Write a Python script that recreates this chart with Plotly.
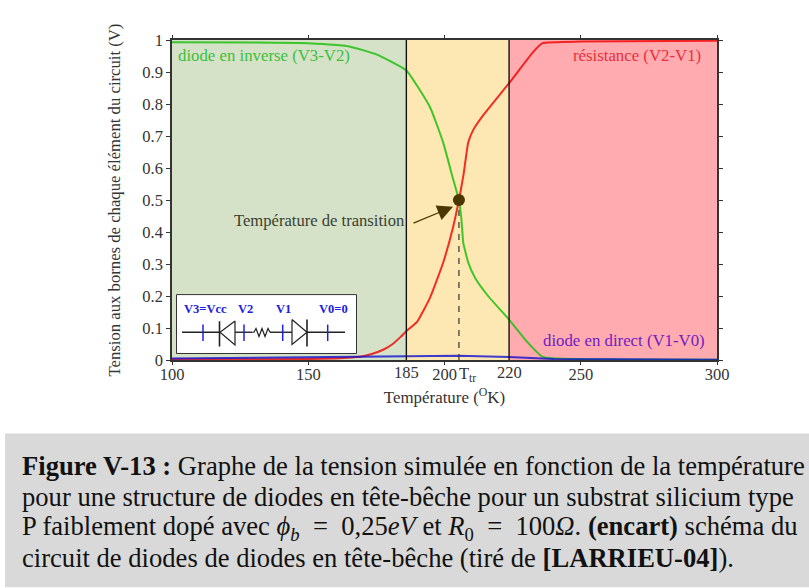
import plotly.graph_objects as go

# ---- data ----
t_inverse = [100, 130, 150, 165, 175, 186, 194.7, 199.5, 203, 205.3, 206.2, 206.9, 208.7, 211.2, 216, 223.7, 230, 236, 250, 300]
v_inverse = [0.993, 0.992, 0.99, 0.98, 0.955, 0.905, 0.79, 0.68, 0.57, 0.5, 0.44, 0.366, 0.305, 0.257, 0.2, 0.126, 0.06, 0.01, 0.003, 0.001]
t_resist = [100, 150, 160, 169, 173, 177.5, 181, 184, 186, 190, 194.7, 199.5, 203, 205.3, 207, 208.7, 210.6, 214.3, 223.7, 232.5, 236, 250, 300]
v_resist = [0.002, 0.003, 0.005, 0.01, 0.018, 0.032, 0.05, 0.073, 0.09, 0.12, 0.195, 0.304, 0.41, 0.5, 0.58, 0.68, 0.72, 0.766, 0.865, 0.962, 0.99, 0.995, 0.998]
t_direct = [100, 150, 186, 205, 223.7, 240, 300]
v_direct = [0.005, 0.009, 0.012, 0.013, 0.009, 0.003, 0.001]
t_tr, v_tr = 205.3, 0.5
zone_edges = [100, 186, 223.7, 300]
zone_colors = ["#d5e2c8", "#fde8b4", "#ffabb0"]
x_ticks = [100, 150, 200, 250, 300]
y_ticks = [0, 0.1, 0.2, 0.3, 0.4, 0.5, 0.6, 0.7, 0.8, 0.9, 1]
y_labels = ["0", "0.1", "0.2", "0.3", "0.4", "0.5", "0.6", "0.7", "0.8", "0.9", "1"]
extra_ticks = [(186, "185"), (223.7, "220")]
caption = [
    "<b>Figure V-13 :</b> Graphe de la tension simulée en fonction de la température",
    "pour une structure de diodes en tête-bêche pour un substrat silicium type",
    "P faiblement dopé avec <i>ϕ<sub>b</sub></i>\u00a0 = \u00a00,25<i>eV</i> et <i>R</i><sub>0</sub>\u00a0 = \u00a0100<i>Ω</i>. <b>(encart)</b> schéma du",
    "circuit de diodes de diodes en tête-bêche (tiré de <b>[LARRIEU-04]</b>).",
]

W, H = 809, 588
L, R, T, B = 172, 717, 40, 360.5
FONT = "Liberation Serif"
def px(x): return (x - L) / (R - L)
def py(y): return (B - y) / (B - T)

fig = go.Figure()
fig.add_trace(go.Scatter(x=t_resist, y=v_resist, mode="lines", line=dict(color="#f00000", width=2, shape="spline", smoothing=0.4), opacity=0.8, hoverinfo="skip"))
fig.add_trace(go.Scatter(x=t_inverse, y=v_inverse, mode="lines", line=dict(color="#20c010", width=2, shape="spline", smoothing=0.4), opacity=0.85, hoverinfo="skip"))
fig.add_trace(go.Scatter(x=t_direct, y=v_direct, mode="lines", line=dict(color="#1010d0", width=2), opacity=0.8, hoverinfo="skip"))
fig.add_trace(go.Scatter(x=[t_tr, t_tr], y=[0, v_tr], mode="lines", line=dict(color="#333", width=1.2, dash="6px,6px"), hoverinfo="skip"))
fig.add_trace(go.Scatter(x=[t_tr], y=[v_tr], mode="markers", marker=dict(color="#4a3800", size=12), hoverinfo="skip"))

shapes = []
for i, c in enumerate(zone_colors):
    shapes.append(dict(type="rect", layer="below", xref="x", yref="y", x0=zone_edges[i], x1=zone_edges[i+1], y0=0, y1=1, fillcolor=c, line_width=0))
for e in zone_edges[1:3]:
    shapes.append(dict(type="line", xref="x", yref="y", x0=e, x1=e, y0=0, y1=1, line=dict(color="#111", width=1.4)))

def line(x0, y0, x1, y1, color="#222", width=1.4):
    shapes.append(dict(type="line", xref="paper", yref="paper", x0=px(x0), x1=px(x1), y0=py(y0), y1=py(y1), line=dict(color=color, width=width)))

def poly(pts, color="#222", width=1.2):
    d = "M" + " L".join(f"{px(a):.5f},{py(b):.5f}" for a, b in pts)
    shapes.append(dict(type="path", xref="paper", yref="paper", path=d, line=dict(color=color, width=width)))

# caption band
shapes.append(dict(type="rect", xref="paper", yref="paper", x0=px(5), x1=px(809), y0=py(434), y1=py(588), fillcolor="#d9d9d9", line_width=0, layer="below"))
# inset schematic
shapes.append(dict(type="rect", xref="paper", yref="paper", x0=px(176.5), x1=px(356.5), y0=py(295), y1=py(354), fillcolor="white", line=dict(color="#333", width=1)))
yc = 332.7
line(182, yc, 220, yc, width=1.6)
line(219.5, 321.7, 219.5, 347, width=1.6)
poly([(235, 321.5), (220, yc), (235, 345.5), (235, 321.5)])
line(235, yc, 252, yc)
poly([(252, yc), (254, yc), (256, 329), (259, 337), (262, 329), (265, 337), (268, 329), (270, yc)])
line(270, yc, 292, yc)
poly([(292, 320), (307, yc), (292, 345), (292, 320)])
line(307, 320, 307, 347, width=1.6)
line(307, yc, 345, yc, width=1.6)
for xb in [203, 244, 282.7, 327.7]:
    line(xb, 325, xb, 341.5, color="#2020e0", width=1.5)

ann = []
def text(x, y, s, size, color="#333", anchor="center", valign="middle"):
    ann.append(dict(xref="paper", yref="paper", x=px(x), y=py(y), text=s, showarrow=False, xanchor=anchor, yanchor=valign,
                    font=dict(family=FONT, size=size, color=color)))

text(176, 56, "diode en inverse (V3-V2)", 16.8, "#3cc03c", "left")
text(703, 56, "résistance (V2-V1)", 16.8, "#e8303a", "right")
text(707, 341, "diode en direct (V1-V0)", 16.8, "#7020c0", "right")
text(407, 221, "Température de transition", 16.6, "#3a4030", "right")
for xv, lab in extra_ticks:
    ann.append(dict(xref="x", yref="paper", x=xv, y=py(373), text=lab, showarrow=False, xanchor="center", yanchor="middle",
                    font=dict(family=FONT, size=16.5, color="#333")))
ann.append(dict(xref="x", yref="paper", x=t_tr, y=py(375), text="T<sub>tr</sub>", showarrow=False, xanchor="left", yanchor="middle", xshift=-2,
                font=dict(family=FONT, size=16.5, color="#333")))
for x, s in [(205.7, "V3=Vcc"), (245, "V2"), (283, "V1"), (333, "V0=0")]:
    text(x, 309, f"<b>{s}</b>", 12.5, "#2020e0")
# arrow
ann.append(dict(xref="paper", yref="paper", x=px(453), y=py(207), ax=-41, ay=17, text="", showarrow=True,
                arrowhead=2, arrowsize=2.6, arrowwidth=1.2, arrowcolor="#4a3800"))
for i, s in enumerate(caption):
    text(19.5, 467 + i * 30.7, s, 26.6, "#111", "left")

fig.update_layout(
    width=W, height=H, autosize=False, showlegend=False,
    margin=dict(l=L, r=W - R, t=T, b=H - B, pad=0),
    paper_bgcolor="white", plot_bgcolor="white",
    shapes=shapes, annotations=ann,
    font=dict(family=FONT, color="#333"),
    xaxis=dict(range=[100, 300], tickvals=x_ticks, ticktext=[str(v) for v in x_ticks], ticks="outside", ticklen=3, tickcolor="#333",
               showgrid=False, zeroline=False, showline=True, linecolor="#333", linewidth=1.5, mirror="ticks",
               tickfont=dict(family=FONT, size=16.5, color="#333"), ticklabelstandoff=-5,
               title=dict(text="Température (<sup>O</sup>K)", standoff=9, font=dict(family=FONT, size=16.9, color="#333"))),
    yaxis=dict(range=[0, 1], tickvals=y_ticks, ticktext=y_labels, ticks="outside", ticklen=4, tickcolor="#333",
               showgrid=False, zeroline=False, showline=True, linecolor="#333", linewidth=1.5, mirror="ticks",
               tickfont=dict(family=FONT, size=16.5, color="#333"),
               title=dict(text="Tension aux bornes de chaque élément du circuit (V)", standoff=17, font=dict(family=FONT, size=16.7, color="#333"))),
)
fig.write_html("out.html", config=dict(displayModeBar=False),
               post_script="document.body.style.margin='0';document.body.style.overflow='hidden';")
